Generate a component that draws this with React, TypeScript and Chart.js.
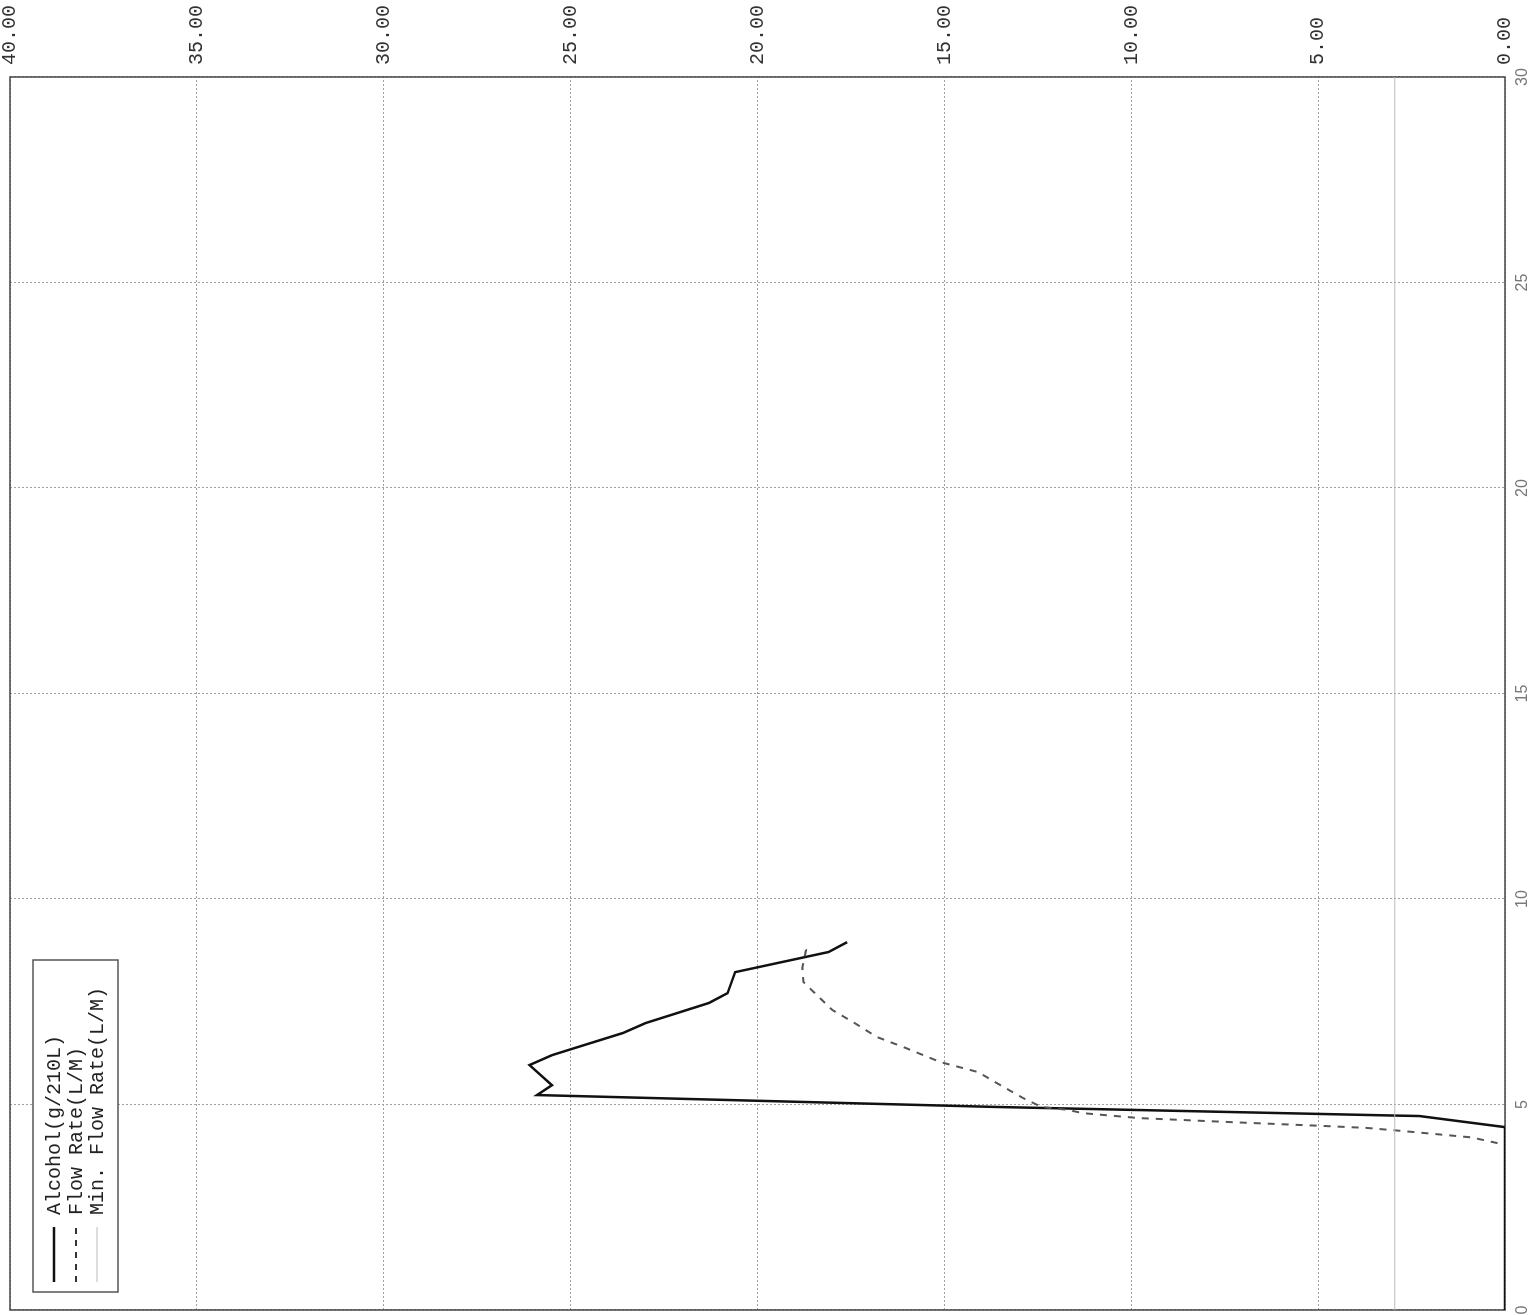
import React, { useEffect, useRef } from "react";
import { Chart, registerables } from "chart.js";

Chart.register(...registerables);

// ---- data ----
const alcoholTime = [0, 4.45, 4.72, 4.73, 4.94, 5.23, 5.47, 5.96, 6.2, 6.4, 6.74, 6.98, 7.47, 7.71, 8.22, 8.71, 8.95];
const alcoholValues = [0, 0, 2.3, 2.9, 13.6, 25.9, 25.5, 26.1, 25.5, 24.8, 23.6, 23.0, 21.3, 20.8, 20.6, 18.1, 17.6];

const flowTime = [4.06, 4.2, 4.36, 4.43, 4.48, 4.57, 4.67, 4.79, 4.87, 4.94, 5.16, 5.47, 5.79, 6.03, 6.4, 6.64, 6.98, 7.3, 7.74, 7.98, 8.32, 8.76, 8.88];
const flowValues = [0.2, 0.9, 2.8, 3.7, 4.9, 7.3, 9.8, 11.3, 11.7, 12.4, 12.9, 13.5, 14.1, 15.1, 16.1, 16.8, 17.4, 18.0, 18.5, 18.77, 18.8, 18.7, 18.85];

const minFlowTime = [0, 30];
const minFlowValues = [2.95, 2.95];

const seriesNames = ["Alcohol(g/210L)", "Flow Rate(L/M)", "Min. Flow Rate(L/M)"];

const timeMin = 0;
const timeMax = 30;
const timeStep = 5;
const valueMin = 0;
const valueMax = 40;
const valueStep = 5;

const W = 1315; // unrotated canvas width (time axis)
const H = 1533; // unrotated canvas height (value axis)

const toPoints = (xs: number[], ys: number[]) => xs.map((x, i) => ({ x, y: ys[i] }));

const framePlugin = {
  id: "frameAndLegend",
  beforeDatasetsDraw(chart: any) {
    const { ctx, chartArea: a } = chart;
    ctx.save();
    ctx.strokeStyle = "#444";
    ctx.lineWidth = 1.5;
    ctx.strokeRect(a.left, a.top, a.right - a.left, a.bottom - a.top);
    ctx.restore();
  },
  afterDatasetsDraw(chart: any) {
    const { ctx, chartArea: a } = chart;
    const bx = a.left + 18;
    const by = a.top + 23;
    const bw = 332;
    const bh = 85;
    ctx.save();
    ctx.fillStyle = "#fff";
    ctx.fillRect(bx, by, bw, bh);
    ctx.strokeStyle = "#555";
    ctx.lineWidth = 1.5;
    ctx.strokeRect(bx, by, bw, bh);
    const rows = [by + 21, by + 43, by + 64];
    const styles = [
      { color: "#111", width: 2.5, dash: [] as number[] },
      { color: "#333", width: 2, dash: [6, 6] },
      { color: "#bbb", width: 1.2, dash: [] as number[] },
    ];
    ctx.font = '20px "Liberation Mono", monospace';
    ctx.textBaseline = "middle";
    ctx.textAlign = "left";
    rows.forEach((ry, i) => {
      const s = styles[i];
      ctx.beginPath();
      ctx.setLineDash(s.dash);
      ctx.strokeStyle = s.color;
      ctx.lineWidth = s.width;
      ctx.moveTo(bx + 10, ry);
      ctx.lineTo(bx + 65, ry);
      ctx.stroke();
      ctx.setLineDash([]);
      ctx.fillStyle = "#222";
      ctx.fillText(seriesNames[i], bx + 77, ry + 1);
    });
    ctx.restore();
  },
};

export default function App() {
  const ref = useRef<HTMLCanvasElement | null>(null);

  useEffect(() => {
    if (!ref.current) return;
    const chart = new Chart(ref.current, {
      type: "line",
      data: {
        datasets: [
          {
            label: seriesNames[2],
            data: toPoints(minFlowTime, minFlowValues),
            borderColor: "#bbb",
            borderWidth: 1.2,
            pointRadius: 0,
            tension: 0,
          },
          {
            label: seriesNames[1],
            data: toPoints(flowTime, flowValues),
            borderColor: "#555",
            borderWidth: 2,
            borderDash: [7, 7],
            pointRadius: 0,
            tension: 0,
          },
          {
            label: seriesNames[0],
            data: toPoints(alcoholTime, alcoholValues),
            borderColor: "#111",
            borderWidth: 2.5,
            pointRadius: 0,
            tension: 0,
          },
        ],
      },
      options: {
        responsive: false,
        animation: false,
        maintainAspectRatio: false,
        layout: { padding: { left: 5, top: 10, right: 0, bottom: 0 } },
        plugins: { legend: { display: false }, tooltip: { enabled: false } },
        scales: {
          x: {
            type: "linear",
            position: "bottom",
            min: timeMin,
            max: timeMax,
            ticks: {
              stepSize: timeStep,
              color: "#777",
              padding: 8,
              maxRotation: 0,
              autoSkip: false,
              font: { family: '"Liberation Sans", sans-serif', size: 16 },
            },
            grid: { color: "#a0a0a0", lineWidth: 1, drawTicks: false },
            border: { display: false, dash: [2, 2] },
            afterFit: (s: any) => {
              s.height = 28;
              s.paddingLeft = 0;
              s.paddingRight = 0;
              s.paddingTop = 0;
              s.paddingBottom = 0;
            },
          },
          y: {
            type: "linear",
            position: "right",
            min: valueMin,
            max: valueMax,
            ticks: {
              stepSize: valueStep,
              color: "#333",
              padding: 12,
              autoSkip: false,
              callback: (v: any) => Number(v).toFixed(2),
              font: { family: '"Liberation Mono", monospace', size: 20 },
            },
            grid: { color: "#a0a0a0", lineWidth: 1, drawTicks: false },
            border: { display: false, dash: [2, 2] },
            afterFit: (s: any) => {
              s.width = 77;
              s.paddingLeft = 0;
              s.paddingRight = 0;
              s.paddingTop = 0;
              s.paddingBottom = 0;
            },
          },
        },
      },
      plugins: [framePlugin],
    });
    return () => chart.destroy();
  }, []);

  return (
    <div
      style={{
        position: "absolute",
        left: 0,
        top: 0,
        width: 1533,
        height: 1315,
        overflow: "hidden",
        background: "#fff",
      }}
    >
      <div
        style={{
          position: "absolute",
          left: 0,
          top: 0,
          width: W,
          height: H,
          transformOrigin: "0 0",
          transform: `translate(0px, ${W}px) rotate(-90deg)`,
        }}
      >
        <canvas ref={ref} width={W} height={H} style={{ width: W, height: H, display: "block" }} />
      </div>
    </div>
  );
}
